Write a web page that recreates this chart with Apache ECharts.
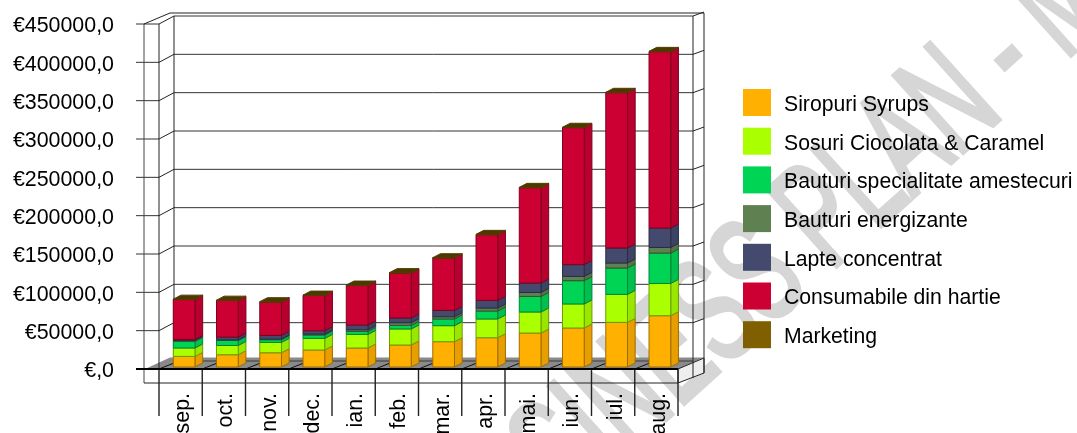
<!DOCTYPE html>
<html><head><meta charset="utf-8">
<style>html,body{margin:0;padding:0;background:#fff}#c{width:1077px;height:433px}</style>
<script src="https://cdn.jsdelivr.net/npm/echarts@6/dist/echarts.min.js"></script>
</head><body><div id="c"></div>
<script>
var months = ['sep.','oct.','nov.','dec.','ian.','feb.','mar.','apr.','mai.','iun.','iul.','aug.'];
var siropuri =   [13800,16000,18600,22200,24800,28700,33000,38200,44300,50900,58200,66900];
var sosuri =     [11000,12100,13500,15100,17700,20900,20900,24400,27400,31300,36500,42100];
var specialitate=[8600,6500,3500,4400,3900,4700,8700,10400,20300,30400,34400,39600];
var energizante =[1300,900,900,1300,2200,3500,3000,3900,5200,5600,6500,7300];
var lapte =      [1300,3500,4700,4300,6100,6100,8200,9900,12300,15300,19600,25300];
var consumabile =[52000,47700,43500,46000,51700,58700,68300,85700,124300,178700,202600,230000];
var marketing =  [500,500,500,500,500,500,500,500,500,500,500,500];
var seriesNames = ['Siropuri Syrups','Sosuri Ciocolata & Caramel','Bauturi specialitate amestecuri','Bauturi energizante','Lapte concentrat','Consumabile din hartie','Marketing'];
var seriesValues = [siropuri,sosuri,specialitate,energizante,lapte,consumabile,marketing];
var colors = ['#FFB000','#AAFF00','#00D455','#5F8050','#434A6E','#CC0033','#7F5F00'];
var FONT = '"Liberation Sans", Arial, sans-serif';

var chart = echarts.init(document.getElementById('c'), null, {renderer:'canvas'});

function shade(hex,f){
  var n=parseInt(hex.slice(1),16);
  return 'rgb('+Math.round((n>>16&255)*f)+','+Math.round((n>>8&255)*f)+','+Math.round((n&255)*f)+')';
}
function line(x1,y1,x2,y2,w,c){
  return {type:'line',shape:{x1:x1,y1:y1,x2:x2,y2:y2},style:{stroke:c||'#111',lineWidth:w||1},silent:true};
}
function poly(pts,fill,stroke){
  return {type:'polygon',shape:{points:pts},style:{fill:fill,stroke:stroke||null,lineWidth:stroke?1:0},silent:true};
}
function frameItem(params,api){
  var cs = params.coordSys, L=cs.x, T=cs.y, R=cs.x+cs.width, B=cs.y+cs.height;
  var band = cs.width/months.length, ch=[];
  var OL=L-15, OB=B+14;
  ch.push(poly([[OL+1,B],[L+11,B-11.5],[R+26,B-11.5],[R,B]],'#8a8a8a'));
  ch.push(poly([[R,B],[R+26,B-11],[R+26,OB-10],[R,OB]],'#eeeeee','#222'));
  ch.push(line(L+15,B-8,R+15,B-8,1.5,'#555'));
  for (var v=0;v<=450000;v+=50000){
    var y=api.coord([0,v])[1];
    if (v>0){
      ch.push(line(L-23,y,L,y,1,'#333'));
      ch.push(line(L,y,L+15,y-8,1,'#222'));
      ch.push(line(L+15,y-8,R+15,y-8,1,'#333'));
      ch.push(line(R+15,y-8,R+26,y-12,1,'#222'));
    }
  }
  ch.push(line(OL,T,OL,OB,1,'#444'));
  ch.push(line(L,T,L,B,1,'#222'));
  ch.push(line(L+15,T-8,L+15,B-8,1,'#222'));
  ch.push(line(R+15,T-8,R+15,OB-5,1,'#222'));
  ch.push(line(R+26,T-11,R+26,OB-10,1,'#222'));
  ch.push(line(OL,T,L+11,T-11,1,'#222'));
  ch.push(line(L+11,T-11,R+26,T-11,1,'#222'));
  ch.push(line(OL,OB,R,OB,1,'#222'));
  for (var i=0;i<=months.length;i++){
    var x=L+i*band;
    if (i<months.length) ch.push(line(x,B,x+15,B-6,1,'#111'));
    ch.push(line(x,B,x,B+47,1.4,'#222'));
  }
  ch.push(line(L-23,B,R,B,2,'#000'));
  return {type:'group',children:ch};
}
function barItem(idx){
  return function(params,api){
    var cat=api.value(0), lo=api.value(1), hi=api.value(2);
    var w=21.7, DX=7.7, DY=-4, SHIFT=3.5, LIFT=-2;
    var cx=api.coord([cat,0])[0]+SHIFT;
    var y0=api.coord([cat,lo])[1]+LIFT, y1=api.coord([cat,hi])[1]+LIFT;
    var x0=cx-w/2, x1=cx+w/2, c=colors[idx];
    var edge=shade(c,0.62);
    var ch=[
      poly([[x1,y0],[x1+DX,y0+DY],[x1+DX,y1+DY],[x1,y1]],shade(c,0.9),edge),
      poly([[x0,y0],[x1,y0],[x1,y1],[x0,y1]],c,edge)
    ];
    if (idx===seriesNames.length-1){
      ch.push(poly([[x0,y1],[x1,y1],[x1+DX,y1+DY],[x0+DX,y1+DY]],shade(c,0.6),shade(c,0.65)));
    }
    return {type:'group',children:ch};
  };
}
var cum = months.map(function(){return 0;});
var series = [{type:'custom',name:'frame',z:1,silent:true,data:[[0,0,0]],encode:{x:0,y:1},renderItem:frameItem,clip:false,tooltip:{show:false}}];
seriesNames.forEach(function(n,idx){
  var data = seriesValues[idx].map(function(v,i){var lo=cum[i];cum[i]+=v;return [i,lo,cum[i]];});
  series.push({type:'custom',name:n,z:3+idx,itemStyle:{color:colors[idx]},data:data,encode:{x:0,y:[1,2]},renderItem:barItem(idx),clip:false,silent:true});
});

chart.setOption({
  animation:false,
  backgroundColor:'#fff',
  grid:{left:159,top:24,width:519,height:345,containLabel:false,outerBoundsMode:'none'},
  xAxis:{type:'category',data:months,axisLine:{show:false},axisTick:{show:false},splitLine:{show:false},
    axisLabel:{interval:0,rotate:90,margin:24,verticalAlign:'top',lineHeight:5,fontFamily:FONT,fontSize:21.4,color:'#000'}},
  yAxis:{type:'value',min:0,max:450000,interval:50000,axisLine:{show:false},axisTick:{show:false},splitLine:{show:false},
    axisLabel:{margin:45,verticalAlign:'top',lineHeight:5,fontFamily:FONT,fontSize:21.4,color:'#000',formatter:function(v){return v===0?'€,0':'€'+v+',0';}}},
  legend:{data:seriesNames,orient:'vertical',left:743,top:89,padding:0,itemWidth:28,itemHeight:27,itemGap:11.7,icon:'rect',
    selectedMode:false,formatter:function(n){return '{t|'+n+'}';},
    textStyle:{fontFamily:FONT,fontSize:21.2,color:'#000',rich:{t:{fontFamily:FONT,fontSize:21.2,color:'#000',padding:[5,0,0,8]}}}},
  graphic:{elements:[{type:'text',z:0,silent:true,x:446,y:562,rotation:42*Math.PI/180,scaleX:0.6,
    style:{text:'BUSINESS PLAN - MANAGEMENT',fill:'#d6d6d6',stroke:'#d6d6d6',lineWidth:5,lineJoin:'round',font:'150px "Liberation Sans"',align:'left',verticalAlign:'middle'}}]},
  series:series
});
</script></body></html>
